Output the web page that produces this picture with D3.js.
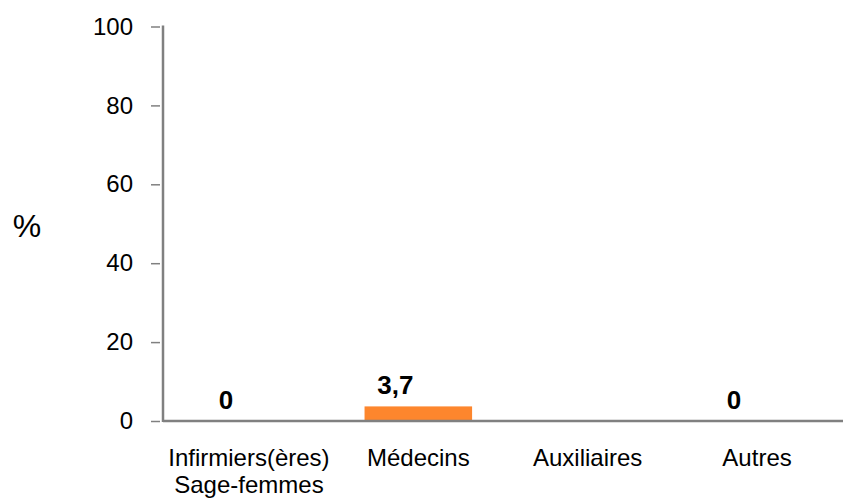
<!DOCTYPE html>
<html>
<head>
<meta charset="utf-8">
<style>
html, body {
    margin: 0;
    padding: 0;
    background: #fff;
    overflow: hidden;
}
svg text {
    font-family: "Liberation Sans", Arial, sans-serif;
    fill: #000;
}
</style>
</head>
<body>
<script src="https://d3js.org/d3.v7.min.js"></script>
<script>
// categories and values (Auxiliaires has no value)
const categories = [["Infirmiers(ères)", "Sage-femmes"], ["Médecins"], ["Auxiliaires"], ["Autres"]];
const values = [0, 3.7, null, 0];
const yTicks = [0, 20, 40, 60, 80, 100];

const [width, height] = [843, 504];
const axisX = 163, axisY = 421, topY = 26.5;

const svg = d3.select("body").append("svg")
    .attr("width", width)
    .attr("height", height);

const x = d3.scaleBand()
    .domain(d3.range(categories.length))
    .range([axisX, width])
    .paddingInner(0.365)
    .paddingOuter(0.19);

const y = d3.scaleLinear()
    .domain([0, 100])
    .range([axisY, topY]);

// bars
svg.append("g")
    .selectAll("rect")
    .data(values.map((v, i) => ({v, i})).filter(d => d.v !== null && d.v > 0))
    .join("rect")
        .attr("x", d => x(d.i))
        .attr("y", d => y(d.v))
        .attr("width", x.bandwidth())
        .attr("height", d => y(0) - y(d.v))
        .attr("fill", "#fd862d");

// value labels (sit a bit left of the band centre, as in the original)
svg.append("g")
    .selectAll("text")
    .data(values.map((v, i) => ({v, i})).filter(d => d.v !== null))
    .join("text")
        .attr("x", d => x(d.i) + x.bandwidth() / 2 - 23)
        .attr("y", d => y(d.v) - 12)
        .attr("text-anchor", "middle")
        .attr("font-size", 26)
        .attr("font-weight", "bold")
        .text(d => String(d.v).replace(".", ","));

// y axis
const yAxis = svg.append("g")
    .attr("transform", `translate(${axisX},0)`)
    .call(d3.axisLeft(y).tickValues(yTicks).tickSize(10).tickPadding(20));
yAxis.select(".domain").remove();
yAxis.selectAll(".tick line").attr("stroke", "#808080").attr("stroke-width", 1.5).attr("x1", -12).attr("x2", -3);
yAxis.selectAll(".tick text")
    .attr("font-size", 24)
    .attr("font-family", "Liberation Sans, Arial, sans-serif");

svg.append("line")
    .attr("x1", axisX).attr("x2", axisX)
    .attr("y1", y(100) - 1).attr("y2", axisY + 1)
    .attr("stroke", "#808080").attr("stroke-width", 2.5);

// x axis line
svg.append("line")
    .attr("x1", axisX).attr("x2", width)
    .attr("y1", axisY).attr("y2", axisY)
    .attr("stroke", "#808080").attr("stroke-width", 2.5);

// category labels
const cat = svg.append("g")
    .selectAll("text")
    .data(categories)
    .join("text")
        .attr("x", (d, i) => x(i) + x.bandwidth() / 2)
        .attr("y", 466)
        .attr("text-anchor", "middle")
        .attr("font-size", 24);
cat.selectAll("tspan")
    .data(d => d)
    .join("tspan")
        .attr("x", function() { return this.parentNode.getAttribute("x"); })
        .attr("dy", (d, i) => i === 0 ? 0 : 27)
        .text(d => d);

// y title
svg.append("text")
    .attr("x", 27)
    .attr("y", 237)
    .attr("text-anchor", "middle")
    .attr("font-size", 32)
    .text("%");
</script>
</body>
</html>
